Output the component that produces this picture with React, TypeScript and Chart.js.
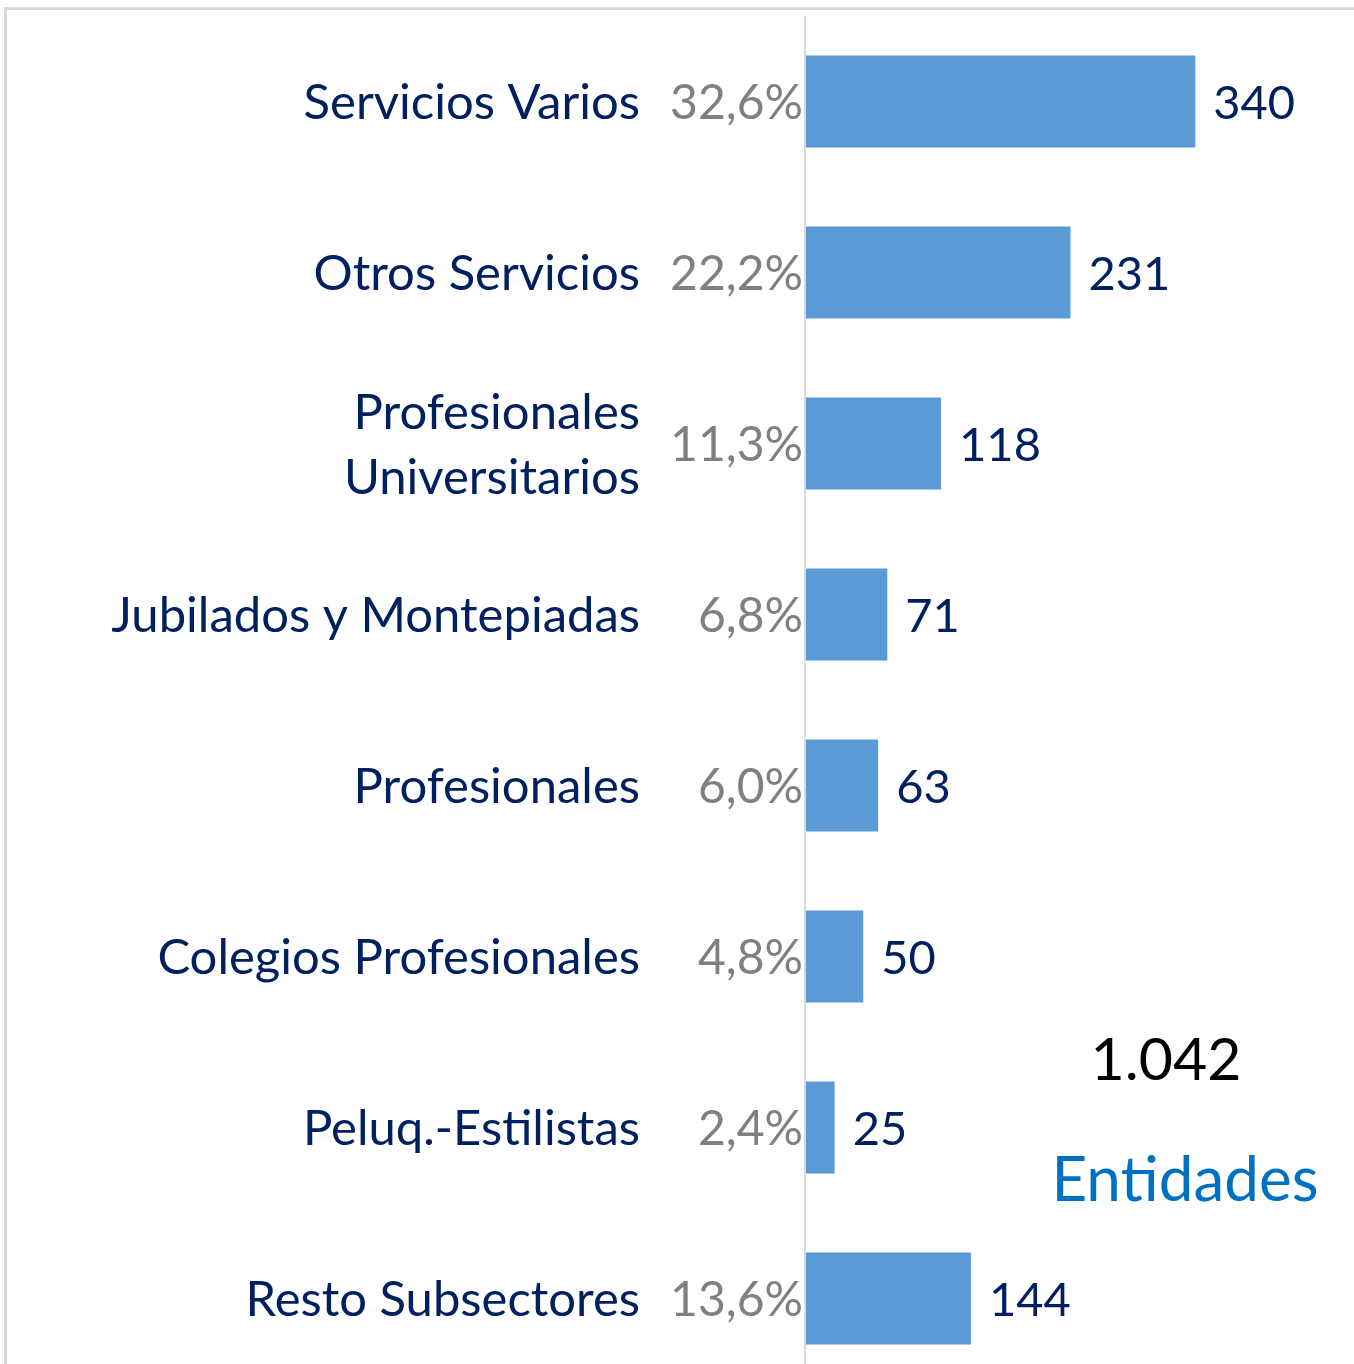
import React, { useEffect, useRef } from "react";
import { Chart, registerables } from "chart.js";

Chart.register(...registerables);

const categories: (string | string[])[] = [
  "Servicios Varios",
  "Otros Servicios",
  ["Profesionales", "Universitarios"],
  "Jubilados y Montepiadas",
  "Profesionales",
  "Colegios Profesionales",
  "Peluq.-Estilistas",
  "Resto Subsectores",
];
const values: number[] = [340, 231, 118, 71, 63, 50, 25, 144];
const percents: string[] = ["32,6%", "22,2%", "11,3%", "6,8%", "6,0%", "4,8%", "2,4%", "13,6%"];
const totalLabel = "1.042";
const unitLabel = "Entidades";

const NAVY = "#002060";
const GRAY = "#808080";
const BAR = "#5B9BD5";
const FONT = "Lato";

export default function App() {
  const ref = useRef<HTMLCanvasElement | null>(null);
  useEffect(() => {
    if (!ref.current) return;
    const labelsPlugin = {
      id: "labelsPlugin",
      beforeDraw(chart: any) {
        const ctx = chart.ctx;
        ctx.save();
        ctx.strokeStyle = "#d9d9d9";
        ctx.lineWidth = 3;
        ctx.beginPath();
        ctx.moveTo(5.5, 1400);
        ctx.lineTo(5.5, 8.5);
        ctx.lineTo(1354, 8.5);
        ctx.stroke();
        ctx.restore();
      },
      afterDatasetsDraw(chart: any) {
        const ctx = chart.ctx;
        const area = chart.chartArea;
        ctx.save();
        ctx.strokeStyle = "#d9d9d9";
        ctx.lineWidth = 2;
        ctx.beginPath();
        ctx.moveTo(area.left - 1, area.top);
        ctx.lineTo(area.left - 1, 1400);
        ctx.stroke();

        const meta = chart.getDatasetMeta(0);
        ctx.textBaseline = "middle";
        meta.data.forEach((bar: any, i: number) => {
          const y = bar.y + 2;
          const cat = categories[i];
          ctx.font = `49px ${FONT}`;
          ctx.fillStyle = NAVY;
          ctx.textAlign = "right";
          if (Array.isArray(cat)) {
            const gap = 65;
            const start = y - ((cat.length - 1) * gap) / 2;
            cat.forEach((line, j) => ctx.fillText(line, 640, start + j * gap));
          } else {
            ctx.fillText(cat, 640, y);
          }
          ctx.font = `48px ${FONT}`;
          ctx.fillStyle = GRAY;
          ctx.textAlign = "right";
          ctx.fillText(percents[i], 803, y);
          ctx.font = `47px ${FONT}`;
          ctx.fillStyle = NAVY;
          ctx.textAlign = "left";
          ctx.fillText(String(values[i]), bar.x + 18, y);
        });

        ctx.textAlign = "center";
        ctx.fillStyle = "#000000";
        ctx.font = `59px ${FONT}`;
        ctx.fillText(totalLabel, 1166, 1061);
        ctx.fillStyle = "#0070C0";
        ctx.font = `62px ${FONT}`;
        ctx.fillText(unitLabel, 1185, 1181);
        ctx.restore();
      },
    };

    const chart = new Chart(ref.current, {
      type: "bar",
      data: {
        labels: categories as any,
        datasets: [
          {
            data: values,
            backgroundColor: BAR,
            barPercentage: 0.538,
            categoryPercentage: 1,
          },
        ],
      },
      options: {
        indexAxis: "y",
        animation: false,
        responsive: false,
        layout: { padding: { left: 806, right: 90, top: 16, bottom: 16 } },
        plugins: { legend: { display: false }, tooltip: { enabled: false } },
        scales: {
          x: { min: 0, max: 400, display: false },
          y: { display: false },
        },
      },
      plugins: [labelsPlugin],
    });
    return () => chart.destroy();
  }, []);

  return (
    <div
      style={{
        position: "absolute",
        left: 0,
        top: 0,
        width: 1354,
        height: 1364,
        overflow: "hidden",
        background: "#ffffff",
      }}
    >
      <canvas ref={ref} width={1354} height={1400} style={{ display: "block" }} />
    </div>
  );
}
